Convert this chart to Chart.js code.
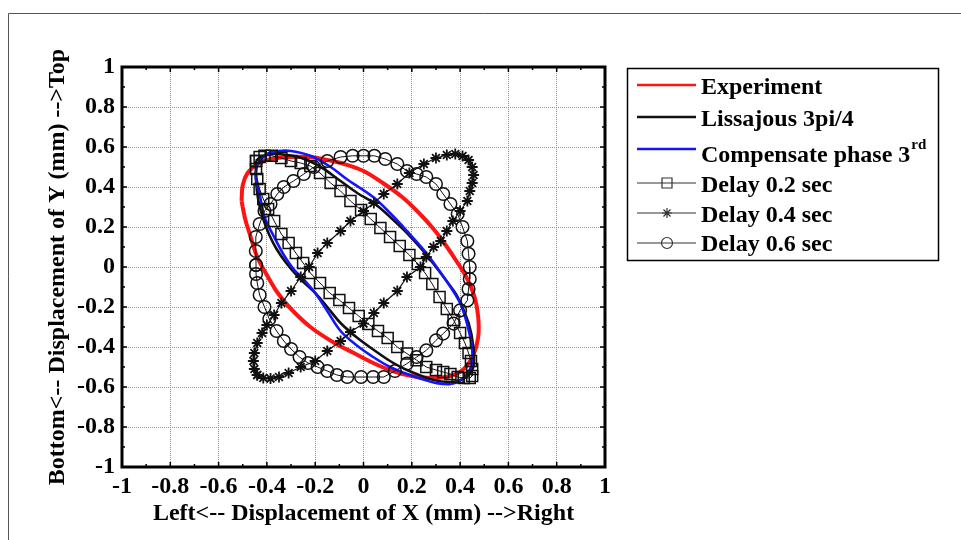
<!DOCTYPE html>
<html>
<head>
<meta charset="utf-8">
<script src="https://cdn.jsdelivr.net/npm/chart.js@4.4.0/dist/chart.umd.min.js"></script>
<style>
  html, body { margin: 0; padding: 0; background: #fff; }
  #wrap { width: 961px; height: 540px; }
</style>
</head>
<body>
<div id="wrap"><canvas id="chart" width="961" height="540"></canvas></div>
<script>
// --- DATA ---
const TICKS = [-1, -0.8, -0.6, -0.4, -0.2, 0, 0.2, 0.4, 0.6, 0.8, 1];
const MINOR_TICKS = [-0.9, -0.7, -0.5, -0.3, -0.1, 0.1, 0.3, 0.5, 0.7, 0.9];

const LABELS = ['Experiment', 'Lissajous 3pi/4', 'Compensate phase 3', 'Delay 0.2 sec', 'Delay 0.4 sec', 'Delay 0.6 sec'];

// Experiment (red)
const EXP_X = [-0.505, -0.50, -0.48, -0.44, -0.38, -0.30, -0.22, -0.15, -0.08, 0.00, 0.08, 0.16, 0.23, 0.29, 0.34, 0.39, 0.43, 0.46, 0.475, 0.475, 0.455, 0.415, 0.36, 0.28, 0.20, 0.12, 0.04, -0.04, -0.12, -0.22, -0.30, -0.355, -0.40, -0.44, -0.467, -0.49, -0.505];
const EXP_Y = [0.33, 0.41, 0.47, 0.515, 0.54, 0.55, 0.55, 0.535, 0.515, 0.48, 0.42, 0.35, 0.27, 0.19, 0.11, 0.02, -0.06, -0.15, -0.25, -0.35, -0.44, -0.51, -0.545, -0.555, -0.545, -0.52, -0.48, -0.43, -0.38, -0.30, -0.21, -0.13, -0.04, 0.05, 0.15, 0.24, 0.33];

// Lissajous 3pi/4 (black)
const LIS_X = [-0.446, -0.42, -0.37, -0.27, -0.19, -0.095, -0.026, 0.043, 0.11, 0.18, 0.24, 0.30, 0.35, 0.39, 0.435, 0.455, 0.455, 0.435, 0.40, 0.36, 0.29, 0.18, 0.11, 0.043, -0.03, -0.095, -0.15, -0.20, -0.27, -0.32, -0.36, -0.39, -0.415, -0.435, -0.445, -0.446];
const LIS_Y = [0.53, 0.555, 0.565, 0.55, 0.51, 0.43, 0.37, 0.32, 0.25, 0.17, 0.09, 0.0, -0.08, -0.15, -0.28, -0.40, -0.50, -0.54, -0.565, -0.575, -0.565, -0.515, -0.47, -0.415, -0.35, -0.28, -0.20, -0.13, -0.05, 0.02, 0.09, 0.16, 0.24, 0.33, 0.43, 0.53];

// Compensate phase 3rd (blue)
const COMP_X = [-0.44, -0.40, -0.35, -0.30, -0.22, -0.136, -0.07, 0.04, 0.11, 0.18, 0.25, 0.30, 0.355, 0.40, 0.43, 0.45, 0.445, 0.41, 0.36, 0.30, 0.24, 0.18, 0.11, 0.04, -0.03, -0.095, -0.15, -0.20, -0.25, -0.29, -0.33, -0.37, -0.41, -0.43, -0.446, -0.44];
const COMP_Y = [0.515, 0.565, 0.58, 0.58, 0.556, 0.50, 0.44, 0.35, 0.27, 0.18, 0.085, 0.005, -0.09, -0.18, -0.29, -0.41, -0.50, -0.56, -0.585, -0.58, -0.56, -0.535, -0.50, -0.45, -0.39, -0.32, -0.22, -0.13, -0.06, -0.01, 0.06, 0.15, 0.25, 0.365, 0.45, 0.515];

// Delay 0.2 sec (squares)
const D02_X = [-0.445, -0.43, -0.41, -0.38, -0.34, -0.30, -0.26, -0.22, -0.18, -0.136, -0.095, -0.054, -0.01, 0.03, 0.07, 0.11, 0.15, 0.19, 0.225, 0.255, 0.285, 0.315, 0.345, 0.373, 0.40, 0.42, 0.435, 0.445, 0.45, 0.45, 0.44, 0.415, 0.39, 0.36, 0.33, 0.30, 0.26, 0.22, 0.18, 0.14, 0.10, 0.06, 0.02, -0.02, -0.06, -0.10, -0.14, -0.18, -0.22, -0.25, -0.28, -0.31, -0.34, -0.37, -0.395, -0.415, -0.43, -0.44, -0.445, -0.445];
const D02_Y = [0.53, 0.55, 0.556, 0.556, 0.545, 0.53, 0.52, 0.505, 0.47, 0.42, 0.38, 0.33, 0.285, 0.24, 0.195, 0.15, 0.105, 0.06, 0.015, -0.03, -0.085, -0.15, -0.21, -0.265, -0.33, -0.38, -0.43, -0.47, -0.51, -0.545, -0.555, -0.555, -0.55, -0.535, -0.525, -0.515, -0.50, -0.466, -0.433, -0.40, -0.355, -0.32, -0.285, -0.245, -0.205, -0.165, -0.13, -0.08, -0.03, 0.02, 0.07, 0.12, 0.165, 0.23, 0.29, 0.34, 0.39, 0.44, 0.49, 0.53];

// Delay 0.4 sec (asterisks)
const D04_X = [-0.44, -0.452, -0.456, -0.452, -0.44, -0.42, -0.40, -0.37, -0.34, -0.30, -0.26, -0.225, -0.19, -0.15, -0.095, -0.054, 0.0, 0.043, 0.084, 0.14, 0.19, 0.25, 0.30, 0.345, 0.38, 0.41, 0.435, 0.45, 0.456, 0.45, 0.44, 0.43, 0.40, 0.37, 0.345, 0.32, 0.29, 0.26, 0.236, 0.18, 0.14, 0.084, 0.043, 0.0, -0.054, -0.095, -0.15, -0.20, -0.26, -0.31, -0.35, -0.385, -0.415, -0.44];
const D04_Y = [-0.54, -0.51, -0.47, -0.43, -0.38, -0.33, -0.29, -0.24, -0.18, -0.12, -0.05, 0.0, 0.07, 0.12, 0.18, 0.23, 0.28, 0.32, 0.365, 0.415, 0.47, 0.515, 0.545, 0.56, 0.565, 0.555, 0.535, 0.50, 0.46, 0.42, 0.38, 0.33, 0.28, 0.23, 0.18, 0.13, 0.10, 0.05, 0.0, -0.05, -0.12, -0.18, -0.23, -0.283, -0.325, -0.37, -0.42, -0.47, -0.50, -0.53, -0.55, -0.558, -0.555, -0.54];

// Delay 0.6 sec (circles)
const D06_X = [-0.445, -0.446, -0.446, -0.43, -0.41, -0.385, -0.357, -0.33, -0.29, -0.247, -0.205, -0.15, -0.095, -0.045, 0.0, 0.045, 0.09, 0.14, 0.18, 0.22, 0.26, 0.30, 0.33, 0.36, 0.39, 0.41, 0.43, 0.435, 0.44, 0.44, 0.435, 0.43, 0.40, 0.373, 0.33, 0.30, 0.26, 0.22, 0.18, 0.13, 0.084, 0.04, -0.01, -0.067, -0.11, -0.15, -0.19, -0.23, -0.265, -0.30, -0.33, -0.36, -0.39, -0.41, -0.43, -0.44, -0.445, -0.445];
const D06_Y = [0.01, 0.08, 0.15, 0.215, 0.28, 0.315, 0.365, 0.40, 0.43, 0.465, 0.50, 0.53, 0.55, 0.556, 0.556, 0.556, 0.54, 0.515, 0.48, 0.465, 0.45, 0.415, 0.365, 0.315, 0.265, 0.20, 0.13, 0.066, 0.0, -0.06, -0.11, -0.167, -0.217, -0.283, -0.333, -0.367, -0.417, -0.45, -0.483, -0.52, -0.55, -0.55, -0.55, -0.55, -0.54, -0.52, -0.50, -0.48, -0.45, -0.41, -0.37, -0.32, -0.26, -0.20, -0.14, -0.08, -0.035, 0.01];

// --- STYLE ---
const FONT = "'Liberation Serif', 'Times New Roman', serif";

function pts(xs, ys) {
  return xs.map((x, i) => ({ x: x, y: ys[i] }));
}

const datasets = [
  { label: LABELS[0], data: pts(EXP_X, EXP_Y), borderColor: '#ff1414', borderWidth: 4, pointRadius: 0, tension: 0.35, order: 6 },
  { label: LABELS[1], data: pts(LIS_X, LIS_Y), borderColor: '#111', borderWidth: 2.6, pointRadius: 0, tension: 0.35, order: 5 },
  { label: LABELS[2], data: pts(COMP_X, COMP_Y), borderColor: '#1414ff', borderWidth: 2.6, pointRadius: 0, tension: 0.35, order: 4 },
  { label: LABELS[3], data: pts(D02_X, D02_Y), borderColor: '#111', borderWidth: 1, pointStyle: 'rect', pointRadius: 7.8, pointBorderWidth: 1.5, pointBorderColor: '#111', pointBackgroundColor: 'rgba(0,0,0,0)', order: 3 },
  { label: LABELS[4], data: pts(D04_X, D04_Y), borderColor: '#111', borderWidth: 1.2, pointStyle: 'star', pointRadius: 5.5, pointBorderWidth: 1.8, pointBorderColor: '#111', pointBackgroundColor: 'rgba(0,0,0,0)', order: 2 },
  { label: LABELS[5], data: pts(D06_X, D06_Y), borderColor: '#111', borderWidth: 1, pointStyle: 'circle', pointRadius: 6.3, pointBorderWidth: 1.5, pointBorderColor: '#111', pointBackgroundColor: 'rgba(0,0,0,0)', order: 1 }
];
datasets.forEach(d => { d.showLine = true; d.fill = false; });

// --- LEGEND / FRAME ---
const LEG_LINE_Y = [85, 117, 149, 183, 213, 243];
const LEG_TEXT_Y = [88, 120, 156, 186, 216, 245];

function legendMarker(ctx, style, x, y) {
  ctx.beginPath();
  if (style === 'rect') {
    ctx.rect(x - 5, y - 5, 10, 10);
  } else if (style === 'circle') {
    ctx.arc(x, y, 5.5, 0, Math.PI * 2);
  } else if (style === 'star') {
    for (let i = 0; i < 4; i++) {
      const a = i * Math.PI / 4;
      ctx.moveTo(x - 5 * Math.cos(a), y - 5 * Math.sin(a));
      ctx.lineTo(x + 5 * Math.cos(a), y + 5 * Math.sin(a));
    }
  }
  ctx.stroke();
}

const framePlugin = {
  id: 'frame',
  afterDraw(chart) {
    const { ctx, chartArea: a, scales: { x, y } } = chart;
    ctx.save();
    ctx.strokeStyle = '#000';

    // ticks on all four sides
    ctx.lineWidth = 1.5;
    ctx.beginPath();
    TICKS.concat(MINOR_TICKS).forEach(v => {
      const len = TICKS.indexOf(v) >= 0 ? 5 : 3;
      const px = x.getPixelForValue(v);
      const py = y.getPixelForValue(v);
      ctx.moveTo(px, a.top); ctx.lineTo(px, a.top + len);
      ctx.moveTo(px, a.bottom); ctx.lineTo(px, a.bottom - len);
      ctx.moveTo(a.left, py); ctx.lineTo(a.left + len, py);
      ctx.moveTo(a.right, py); ctx.lineTo(a.right - len, py);
    });
    ctx.stroke();

    // axes box
    ctx.lineWidth = 3;
    ctx.strokeRect(a.left, a.top, a.right - a.left, a.bottom - a.top);

    // outer figure border
    ctx.strokeStyle = '#555';
    ctx.lineWidth = 1;
    ctx.beginPath();
    ctx.moveTo(8.5, 540); ctx.lineTo(8.5, 13.5); ctx.lineTo(961, 13.5);
    ctx.stroke();

    // legend box
    ctx.strokeStyle = '#000';
    ctx.lineWidth = 1.5;
    ctx.strokeRect(627.5, 68.5, 311, 192);

    ctx.textBaseline = 'middle';
    ctx.textAlign = 'left';
    ctx.fillStyle = '#000';
    chart.data.datasets.forEach((ds, i) => {
      const ly = LEG_LINE_Y[i];
      ctx.strokeStyle = ds.pointStyle ? '#333' : ds.borderColor;
      ctx.lineWidth = ds.pointStyle ? 1 : 2.5;
      ctx.beginPath();
      ctx.moveTo(637, ly); ctx.lineTo(696, ly);
      ctx.stroke();
      if (ds.pointStyle) {
        ctx.lineWidth = 1.2;
        legendMarker(ctx, ds.pointStyle, 667, ly);
      }
      ctx.font = 'bold 24px ' + FONT;
      ctx.fillText(ds.label, 701, LEG_TEXT_Y[i]);
      if (i === 2) {
        const w = ctx.measureText(ds.label).width;
        ctx.font = 'bold 15px ' + FONT;
        ctx.fillText('rd', 701 + w + 1, LEG_TEXT_Y[i] - 11);
      }
    });
    ctx.restore();
  }
};

// --- CHART ---
const tickFont = { family: FONT, size: 24, weight: 'bold' };
const fmt = v => String(Math.round(v * 10) / 10);

new Chart(document.getElementById('chart'), {
  type: 'scatter',
  data: { datasets: datasets },
  plugins: [framePlugin],
  options: {
    responsive: false,
    animation: false,
    layout: { padding: { top: 67, right: 356, bottom: 0, left: 0 } },
    plugins: { legend: { display: false }, tooltip: { enabled: false } },
    scales: {
      x: {
        type: 'linear', min: -1, max: 1,
        afterBuildTicks: s => { s.ticks = TICKS.map(v => ({ value: v })); },
        afterFit: s => { s.height = 73; },
        grid: { color: '#8f8f8f', lineWidth: 1, drawTicks: false },
        border: { display: false, dash: [1, 1] },
        ticks: { color: '#000', font: tickFont, padding: 5, maxRotation: 0, autoSkip: false, callback: fmt },
        title: { display: true, text: 'Left<-- Displacement of X (mm) -->Right', color: '#000', font: tickFont, padding: { top: 0, bottom: 12 } }
      },
      y: {
        type: 'linear', min: -1, max: 1,
        afterBuildTicks: s => { s.ticks = TICKS.map(v => ({ value: v })); },
        afterFit: s => { s.width = 122; },
        grid: { color: '#8f8f8f', lineWidth: 1, drawTicks: false },
        border: { display: false, dash: [1, 1] },
        ticks: { color: '#000', font: tickFont, padding: 7, autoSkip: false, callback: fmt },
        title: { display: true, text: 'Bottom<-- Displacement of Y (mm) -->Top', color: '#000', font: tickFont, padding: { top: 43, bottom: 0 } }
      }
    }
  }
});
</script>
</body>
</html>
